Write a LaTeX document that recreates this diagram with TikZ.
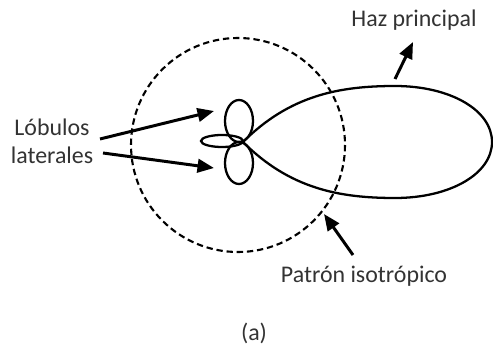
\documentclass[tikz,border=0pt]{standalone}
\usepackage{fontspec}
\setmainfont{Carlito}
\usetikzlibrary{arrows.meta,positioning}

\begin{document}
\begin{tikzpicture}[x=0.02cm, y=-0.02cm,
    lobe/.style={line width=1.3pt, black},
    isotropic/.style={line width=1.2pt, dash pattern=on 3.6pt off 2.2pt},
    pointer/.style={-{Triangle[length=3.3mm, width=2.7mm]}, line width=1.7pt},
    label/.style={font=\fontsize{13.6}{16}\selectfont, text=black!80, align=center}
]
    \useasboundingbox (0,0) rectangle (493,351);

    % Isotropic pattern
    \draw[isotropic] (238,145) circle (107);

    % Radiation pattern
    \coordinate (O) at (243,142);
    \draw[lobe] (O) .. controls (290,95) and (340,86) .. (395,86)
        .. controls (450,86) and (492,110) .. (492,142)
        .. controls (492,174) and (450,198) .. (395,198)
        .. controls (340,198) and (290,189) .. (O);
    \draw[lobe] (239,121) ellipse (14 and 21);
    \draw[lobe] (239,163) ellipse (14 and 21);
    \draw[lobe] (222,141) ellipse (21 and 6);

    % Labels
    \node[label] (side) at (52,141) {Lóbulos\\laterales};
    \node[label] (main) at (414,20) {Haz principal};
    \node[label] (iso) at (364,276) {Patrón isotrópico};
    \node[label] (cap) at (254,333) {(a)};

    % Pointers
    \coordinate (sideA) at (100,139);
    \coordinate (sideB) at (103,153);
    \coordinate (up) at (214,111);
    \coordinate (down) at (214,168);
    \coordinate (mainA) at (395,79);
    \coordinate (mainB) at (413,42);
    \coordinate (isoA) at (353,255);
    \coordinate (isoB) at (324,214);
    \draw[pointer] (sideA) -- (up);
    \draw[pointer] (sideB) -- (down);
    \draw[pointer] (mainA) -- (mainB);
    \draw[pointer] (isoA) -- (isoB);
\end{tikzpicture}
\end{document}
